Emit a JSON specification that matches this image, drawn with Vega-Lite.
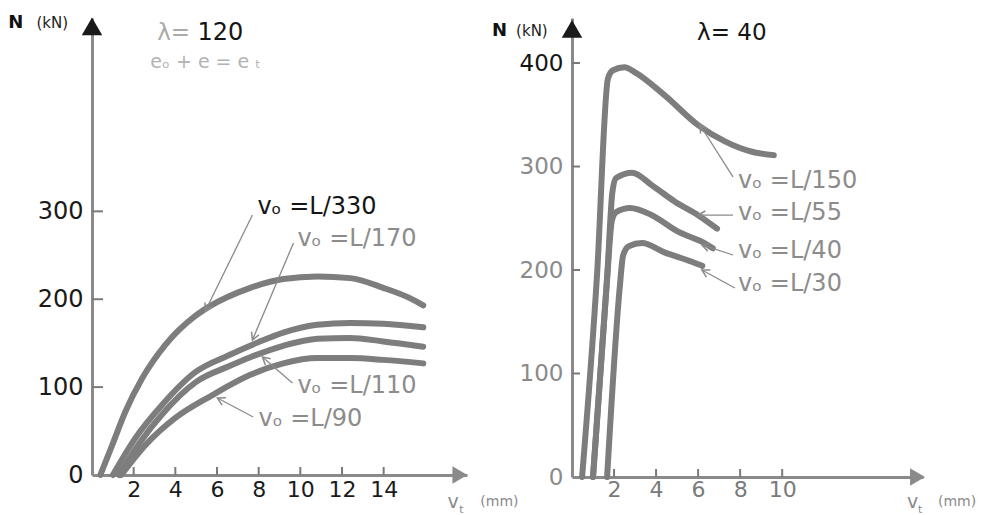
{
  "$schema": "https://vega.github.io/schema/vega-lite/v6.json",
  "background": "white",
  "padding": {"left": 8, "top": 13, "right": 0, "bottom": 0},
  "autosize": {"type": "pad"},
  "bounds": "flush",
  "spacing": 105,
  "config": {
    "view": {"stroke": null},
    "font": "DejaVu Sans",
    "axis": {"grid": false, "domainColor": "#8a8a8a", "domainWidth": 3, "ticks": false, "labelFont": "DejaVu Sans", "labelFontWeight": "normal"}
  },
  "datasets": {
    "left": [
      {"curve": "L/330", "v": 0.4, "N": 0}, {"curve": "L/330", "v": 0.97, "N": 34}, {"curve": "L/330", "v": 1.6, "N": 72}, {"curve": "L/330", "v": 2.41, "N": 110}, {"curve": "L/330", "v": 3.52, "N": 148}, {"curve": "L/330", "v": 4.96, "N": 181}, {"curve": "L/330", "v": 5.58, "N": 191}, {"curve": "L/330", "v": 7.6, "N": 213}, {"curve": "L/330", "v": 9.18, "N": 223}, {"curve": "L/330", "v": 10.82, "N": 226}, {"curve": "L/330", "v": 12.4, "N": 224}, {"curve": "L/330", "v": 13.98, "N": 213}, {"curve": "L/330", "v": 15.28, "N": 201}, {"curve": "L/330", "v": 15.9, "N": 193},
      {"curve": "L/170", "v": 1.0, "N": 0}, {"curve": "L/170", "v": 2.08, "N": 42}, {"curve": "L/170", "v": 3.37, "N": 80}, {"curve": "L/170", "v": 4.96, "N": 117}, {"curve": "L/170", "v": 6.54, "N": 136}, {"curve": "L/170", "v": 7.98, "N": 151}, {"curve": "L/170", "v": 9.18, "N": 162}, {"curve": "L/170", "v": 10.82, "N": 171}, {"curve": "L/170", "v": 12.4, "N": 173}, {"curve": "L/170", "v": 13.98, "N": 172}, {"curve": "L/170", "v": 15.9, "N": 168},
      {"curve": "L/110", "v": 1.3, "N": 0}, {"curve": "L/110", "v": 2.3, "N": 37}, {"curve": "L/110", "v": 3.4, "N": 70}, {"curve": "L/110", "v": 5.0, "N": 106}, {"curve": "L/110", "v": 6.6, "N": 124}, {"curve": "L/110", "v": 7.6, "N": 134}, {"curve": "L/110", "v": 9.18, "N": 147}, {"curve": "L/110", "v": 10.82, "N": 155}, {"curve": "L/110", "v": 12.4, "N": 156}, {"curve": "L/110", "v": 13.98, "N": 152}, {"curve": "L/110", "v": 15.9, "N": 146},
      {"curve": "L/90", "v": 1.4, "N": 0}, {"curve": "L/90", "v": 2.56, "N": 34}, {"curve": "L/90", "v": 4.0, "N": 65}, {"curve": "L/90", "v": 5.78, "N": 91}, {"curve": "L/90", "v": 7.6, "N": 114}, {"curve": "L/90", "v": 9.18, "N": 127}, {"curve": "L/90", "v": 10.82, "N": 133}, {"curve": "L/90", "v": 12.4, "N": 133}, {"curve": "L/90", "v": 13.98, "N": 131}, {"curve": "L/90", "v": 15.9, "N": 127}
    ],
    "right": [
      {"curve": "L/150", "v": 0.48, "N": 0}, {"curve": "L/150", "v": 1.19, "N": 195}, {"curve": "L/150", "v": 1.71, "N": 385}, {"curve": "L/150", "v": 1.95, "N": 393}, {"curve": "L/150", "v": 2.5, "N": 396}, {"curve": "L/150", "v": 3.0, "N": 391}, {"curve": "L/150", "v": 4.4, "N": 369}, {"curve": "L/150", "v": 6.0, "N": 340}, {"curve": "L/150", "v": 7.3, "N": 324}, {"curve": "L/150", "v": 8.6, "N": 314}, {"curve": "L/150", "v": 9.6, "N": 311},
      {"curve": "L/55", "v": 1.0, "N": 0}, {"curve": "L/55", "v": 1.68, "N": 195}, {"curve": "L/55", "v": 1.92, "N": 275}, {"curve": "L/55", "v": 2.1, "N": 289}, {"curve": "L/55", "v": 2.86, "N": 294}, {"curve": "L/55", "v": 3.8, "N": 282}, {"curve": "L/55", "v": 4.9, "N": 266}, {"curve": "L/55", "v": 6.0, "N": 253}, {"curve": "L/55", "v": 6.9, "N": 240},
      {"curve": "L/40", "v": 1.0, "N": 0}, {"curve": "L/40", "v": 1.68, "N": 195}, {"curve": "L/40", "v": 1.9, "N": 248}, {"curve": "L/40", "v": 2.1, "N": 256}, {"curve": "L/40", "v": 2.76, "N": 260}, {"curve": "L/40", "v": 3.8, "N": 253}, {"curve": "L/40", "v": 5.05, "N": 237}, {"curve": "L/40", "v": 6.3, "N": 226}, {"curve": "L/40", "v": 6.7, "N": 221},
      {"curve": "L/30", "v": 1.67, "N": 0}, {"curve": "L/30", "v": 2.28, "N": 185}, {"curve": "L/30", "v": 2.43, "N": 214}, {"curve": "L/30", "v": 2.7, "N": 223}, {"curve": "L/30", "v": 3.33, "N": 226}, {"curve": "L/30", "v": 4.4, "N": 217}, {"curve": "L/30", "v": 5.7, "N": 208}, {"curve": "L/30", "v": 6.2, "N": 204}
    ],
    "leftNotes": [
      {"curve": "L/330", "label": "vₒ =L/330", "lx": 7.94, "ly": 304.4, "tx": 7.7, "ty": 295.9, "hx": 5.44, "hy": 186.6},
      {"curve": "L/170", "label": "vₒ =L/170", "lx": 9.86, "ly": 268.5, "tx": 9.67, "ty": 264, "hx": 7.7, "hy": 153.6},
      {"curve": "L/110", "label": "vₒ =L/110", "lx": 9.86, "ly": 101.3, "tx": 9.62, "ty": 104.7, "hx": 8.18, "hy": 134.3},
      {"curve": "L/90", "label": "vₒ =L/90", "lx": 7.99, "ly": 63.7, "tx": 7.74, "ty": 66, "hx": 6.02, "hy": 87.6}
    ],
    "rightNotes": [
      {"curve": "L/150", "label": "vₒ =L/150", "lx": 7.9, "ly": 286, "tx": 7.66, "ty": 289.9, "hx": 6.09, "hy": 340.1},
      {"curve": "L/55", "label": "vₒ =L/55", "lx": 7.9, "ly": 255, "tx": 7.66, "ty": 253.1, "hx": 5.99, "hy": 253.1},
      {"curve": "L/40", "label": "vₒ =L/40", "lx": 7.9, "ly": 218, "tx": 7.66, "ty": 214.5, "hx": 6.18, "hy": 224.2},
      {"curve": "L/30", "label": "vₒ =L/30", "lx": 7.9, "ly": 186, "tx": 7.75, "ty": 182.6, "hx": 6.18, "hy": 200}
    ],
    "leftXTicks": [{"t": 2}, {"t": 4}, {"t": 6}, {"t": 8}, {"t": 10}, {"t": 12}, {"t": 14}],
    "leftYTicks": [{"t": 100}, {"t": 200}, {"t": 300}],
    "rightXTicks": [{"t": 2}, {"t": 4}, {"t": 6}, {"t": 8}, {"t": 10}],
    "rightYTicks": [{"t": 100}, {"t": 200}, {"t": 300}, {"t": 400}]
  },
  "hconcat": [
    {
      "width": 375,
      "height": 457,
      "layer": [
        {
          "data": {"name": "left"},
          "mark": {"type": "line", "color": "#7d7d7d", "strokeWidth": 6, "interpolate": "monotone", "strokeCap": "round"},
          "encoding": {
            "x": {"field": "v", "type": "quantitative", "title": null, "scale": {"domain": [0, 18], "nice": false, "zero": false},
                  "axis": {"values": [2, 4, 6, 8, 10, 12, 14], "labelPadding": 4, "labelFontSize": 22, "labelColor": "#1a1a1a"}},
            "y": {"field": "N", "type": "quantitative", "title": null, "scale": {"domain": [0, 520], "nice": false, "zero": false},
                  "axis": {"values": [0, 100, 200, 300], "labelPadding": 9, "labelFontSize": 24, "labelColor": "#1a1a1a"}},
            "detail": {"field": "curve"}
          }
        },
        {
          "data": {"name": "leftXTicks"},
          "mark": {"type": "rule", "color": "#7a7a7a", "strokeWidth": 2},
          "encoding": {"x": {"field": "t", "type": "quantitative", "title": null}, "y": {"datum": 0}, "y2": {"datum": 9.1}}
        },
        {
          "data": {"name": "leftYTicks"},
          "mark": {"type": "rule", "color": "#7a7a7a", "strokeWidth": 2},
          "encoding": {"y": {"field": "t", "type": "quantitative", "title": null}, "x": {"datum": 0}, "x2": {"datum": 0.53}}
        },
        {
          "data": {"name": "leftNotes"},
          "mark": {"type": "rule", "color": "#8a8a8a", "strokeWidth": 1.3},
          "encoding": {
            "x": {"field": "tx", "type": "quantitative", "title": null}, "y": {"field": "ty", "type": "quantitative", "title": null},
            "x2": {"field": "hx"}, "y2": {"field": "hy"}
          }
        },
        {
          "data": {"name": "leftNotes"}, "transform": [{"filter": "datum.curve === 'L/330'"}],
          "mark": {"type": "point", "shape": "M-0.55,1L0,0L0.55,1", "size": 220, "angle": 206.1, "filled": false, "stroke": "#8a8a8a", "strokeWidth": 1.5, "opacity": 1},
          "encoding": {"x": {"field": "hx", "type": "quantitative", "title": null}, "y": {"field": "hy", "type": "quantitative", "title": null}}
        },
        {
          "data": {"name": "leftNotes"}, "transform": [{"filter": "datum.curve === 'L/170'"}],
          "mark": {"type": "point", "shape": "M-0.55,1L0,0L0.55,1", "size": 220, "angle": 202.9, "filled": false, "stroke": "#8a8a8a", "strokeWidth": 1.5, "opacity": 1},
          "encoding": {"x": {"field": "hx", "type": "quantitative", "title": null}, "y": {"field": "hy", "type": "quantitative", "title": null}}
        },
        {
          "data": {"name": "leftNotes"}, "transform": [{"filter": "datum.curve === 'L/110'"}],
          "mark": {"type": "point", "shape": "M-0.55,1L0,0L0.55,1", "size": 220, "angle": 310.9, "filled": false, "stroke": "#8a8a8a", "strokeWidth": 1.5, "opacity": 1},
          "encoding": {"x": {"field": "hx", "type": "quantitative", "title": null}, "y": {"field": "hy", "type": "quantitative", "title": null}}
        },
        {
          "data": {"name": "leftNotes"}, "transform": [{"filter": "datum.curve === 'L/90'"}],
          "mark": {"type": "point", "shape": "M-0.55,1L0,0L0.55,1", "size": 220, "angle": 297.8, "filled": false, "stroke": "#8a8a8a", "strokeWidth": 1.5, "opacity": 1},
          "encoding": {"x": {"field": "hx", "type": "quantitative", "title": null}, "y": {"field": "hy", "type": "quantitative", "title": null}}
        },
        {
          "data": {"name": "leftNotes"},
          "mark": {"type": "text", "align": "left", "baseline": "middle", "fontSize": 24, "font": "DejaVu Sans"},
          "encoding": {
            "x": {"field": "lx", "type": "quantitative", "title": null}, "y": {"field": "ly", "type": "quantitative", "title": null},
            "text": {"field": "label"},
            "color": {"condition": {"test": "datum.curve === 'L/330'", "value": "#151515"}, "value": "#8c8c8c"}
          }
        },
        {
          "data": {"values": [{}]},
          "mark": {"type": "point", "shape": "triangle-up", "size": 420, "filled": true, "color": "#1a1a1a", "opacity": 1},
          "encoding": {"x": {"datum": 0}, "y": {"datum": 510.4}}
        },
        {
          "data": {"values": [{}]},
          "mark": {"type": "point", "shape": "triangle-right", "size": 300, "filled": true, "color": "#8a8a8a", "opacity": 1},
          "encoding": {"x": {"datum": 17.66}, "y": {"datum": 0}}
        },
        {
          "data": {"values": [{}]},
          "mark": {"type": "text", "text": "N", "align": "left", "baseline": "middle", "fontSize": 18, "fontWeight": "bold", "color": "#111"},
          "encoding": {"x": {"datum": -4.02}, "y": {"datum": 514.5}}
        },
        {
          "data": {"values": [{}]},
          "mark": {"type": "text", "text": "(kN)", "align": "left", "baseline": "middle", "fontSize": 15, "color": "#222"},
          "encoding": {"x": {"datum": -2.67}, "y": {"datum": 514.5}}
        },
        {
          "data": {"values": [{}]},
          "mark": {"type": "text", "text": "λ=", "align": "left", "baseline": "middle", "fontSize": 23, "color": "#aaaaaa"},
          "encoding": {"x": {"datum": 3.13}, "y": {"datum": 502.4}}
        },
        {
          "data": {"values": [{}]},
          "mark": {"type": "text", "text": "120", "align": "left", "baseline": "middle", "fontSize": 24, "color": "#151515"},
          "encoding": {"x": {"datum": 5.06}, "y": {"datum": 502.4}}
        },
        {
          "data": {"values": [{}]},
          "mark": {"type": "text", "text": "eₒ + e = e ₜ", "align": "left", "baseline": "middle", "fontSize": 19, "color": "#b3b3b3"},
          "encoding": {"x": {"datum": 2.8}, "y": {"datum": 470}}
        },
        {
          "data": {"values": [{}]},
          "mark": {"type": "text", "text": "v", "align": "left", "baseline": "middle", "fontSize": 19, "color": "#8a8a8a"},
          "encoding": {"x": {"datum": 17.06}, "y": {"datum": -31}}
        },
        {
          "data": {"values": [{}]},
          "mark": {"type": "text", "text": "t", "align": "left", "baseline": "middle", "fontSize": 11, "color": "#8a8a8a"},
          "encoding": {"x": {"datum": 17.63}, "y": {"datum": -39.5}}
        },
        {
          "data": {"values": [{}]},
          "mark": {"type": "text", "text": "(mm)", "align": "left", "baseline": "middle", "fontSize": 14, "color": "#8a8a8a"},
          "encoding": {"x": {"datum": 18.64}, "y": {"datum": -31}}
        }
      ]
    },
    {
      "width": 351,
      "height": 459,
      "layer": [
        {
          "data": {"name": "right"},
          "mark": {"type": "line", "color": "#7d7d7d", "strokeWidth": 6, "interpolate": "monotone", "strokeCap": "round"},
          "encoding": {
            "x": {"field": "v", "type": "quantitative", "title": null, "scale": {"domain": [0, 16.7], "nice": false, "zero": false},
                  "axis": {"values": [2, 4, 6, 8, 10], "labelPadding": 2, "labelFontSize": 22, "labelColor": "#7a7a7a"}},
            "y": {"field": "N", "type": "quantitative", "title": null, "scale": {"domain": [0, 443.5], "nice": false, "zero": false},
                  "axis": {"values": [0, 100, 200, 300, 400], "labelPadding": 9, "labelFontSize": 23,
                           "labelColor": {"condition": {"test": "datum.value === 400", "value": "#151515"}, "value": "#8a8a8a"}}},
            "detail": {"field": "curve"}
          }
        },
        {
          "data": {"name": "rightXTicks"},
          "mark": {"type": "rule", "color": "#7a7a7a", "strokeWidth": 2},
          "encoding": {"x": {"field": "t", "type": "quantitative", "title": null}, "y": {"datum": 0}, "y2": {"datum": 7.7}}
        },
        {
          "data": {"name": "rightYTicks"},
          "mark": {"type": "rule", "color": "#7a7a7a", "strokeWidth": 2},
          "encoding": {"y": {"field": "t", "type": "quantitative", "title": null}, "x": {"datum": 0}, "x2": {"datum": 0.38}}
        },
        {
          "data": {"name": "rightNotes"},
          "mark": {"type": "rule", "color": "#8a8a8a", "strokeWidth": 1.3},
          "encoding": {
            "x": {"field": "tx", "type": "quantitative", "title": null}, "y": {"field": "ty", "type": "quantitative", "title": null},
            "x2": {"field": "hx"}, "y2": {"field": "hy"}
          }
        },
        {
          "data": {"name": "rightNotes"}, "transform": [{"filter": "datum.curve === 'L/150'"}],
          "mark": {"type": "point", "shape": "M-0.55,1L0,0L0.55,1", "size": 220, "angle": 327.6, "filled": false, "stroke": "#8a8a8a", "strokeWidth": 1.5, "opacity": 1},
          "encoding": {"x": {"field": "hx", "type": "quantitative", "title": null}, "y": {"field": "hy", "type": "quantitative", "title": null}}
        },
        {
          "data": {"name": "rightNotes"}, "transform": [{"filter": "datum.curve === 'L/55'"}],
          "mark": {"type": "point", "shape": "M-0.55,1L0,0L0.55,1", "size": 220, "angle": 270, "filled": false, "stroke": "#8a8a8a", "strokeWidth": 1.5, "opacity": 1},
          "encoding": {"x": {"field": "hx", "type": "quantitative", "title": null}, "y": {"field": "hy", "type": "quantitative", "title": null}}
        },
        {
          "data": {"name": "rightNotes"}, "transform": [{"filter": "datum.curve === 'L/40'"}],
          "mark": {"type": "point", "shape": "M-0.55,1L0,0L0.55,1", "size": 220, "angle": 287.8, "filled": false, "stroke": "#8a8a8a", "strokeWidth": 1.5, "opacity": 1},
          "encoding": {"x": {"field": "hx", "type": "quantitative", "title": null}, "y": {"field": "hy", "type": "quantitative", "title": null}}
        },
        {
          "data": {"name": "rightNotes"}, "transform": [{"filter": "datum.curve === 'L/30'"}],
          "mark": {"type": "point", "shape": "M-0.55,1L0,0L0.55,1", "size": 220, "angle": 298.6, "filled": false, "stroke": "#8a8a8a", "strokeWidth": 1.5, "opacity": 1},
          "encoding": {"x": {"field": "hx", "type": "quantitative", "title": null}, "y": {"field": "hy", "type": "quantitative", "title": null}}
        },
        {
          "data": {"name": "rightNotes"},
          "mark": {"type": "text", "align": "left", "baseline": "middle", "fontSize": 24, "font": "DejaVu Sans", "color": "#8c8c8c"},
          "encoding": {
            "x": {"field": "lx", "type": "quantitative", "title": null}, "y": {"field": "ly", "type": "quantitative", "title": null},
            "text": {"field": "label"}
          }
        },
        {
          "data": {"values": [{}]},
          "mark": {"type": "point", "shape": "triangle-up", "size": 420, "filled": true, "color": "#1a1a1a", "opacity": 1},
          "encoding": {"x": {"datum": 0}, "y": {"datum": 432.9}}
        },
        {
          "data": {"values": [{}]},
          "mark": {"type": "point", "shape": "triangle-right", "size": 300, "filled": true, "color": "#8a8a8a", "opacity": 1},
          "encoding": {"x": {"datum": 16.44}, "y": {"datum": 0}}
        },
        {
          "data": {"values": [{}]},
          "mark": {"type": "text", "text": "N", "align": "left", "baseline": "middle", "fontSize": 18, "fontWeight": "bold", "color": "#111"},
          "encoding": {"x": {"datum": -3.81}, "y": {"datum": 430.9}}
        },
        {
          "data": {"values": [{}]},
          "mark": {"type": "text", "text": "(kN)", "align": "left", "baseline": "middle", "fontSize": 15, "color": "#222"},
          "encoding": {"x": {"datum": -2.66}, "y": {"datum": 430.9}}
        },
        {
          "data": {"values": [{}]},
          "mark": {"type": "text", "text": "λ=  40", "align": "left", "baseline": "middle", "fontSize": 23, "color": "#151515"},
          "encoding": {"x": {"datum": 5.95}, "y": {"datum": 429}}
        },
        {
          "data": {"values": [{}]},
          "mark": {"type": "text", "text": "v", "align": "left", "baseline": "middle", "fontSize": 19, "color": "#8a8a8a"},
          "encoding": {"x": {"datum": 15.94}, "y": {"datum": -24.5}}
        },
        {
          "data": {"values": [{}]},
          "mark": {"type": "text", "text": "t", "align": "left", "baseline": "middle", "fontSize": 11, "color": "#8a8a8a"},
          "encoding": {"x": {"datum": 16.46}, "y": {"datum": -32}}
        },
        {
          "data": {"values": [{}]},
          "mark": {"type": "text", "text": "(mm)", "align": "left", "baseline": "middle", "fontSize": 14, "color": "#8a8a8a"},
          "encoding": {"x": {"datum": 17.41}, "y": {"datum": -24.5}}
        }
      ]
    }
  ]
}
